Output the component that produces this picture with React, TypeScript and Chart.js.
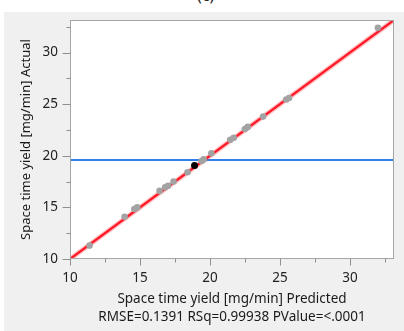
import React, { useEffect, useRef } from "react";
import { Chart, registerables } from "chart.js";

Chart.register(...registerables);

const predicted = [11.4, 13.9, 14.6, 14.8, 16.4, 16.8, 17.0, 17.4, 18.4, 19.4, 19.55, 20.1, 21.45, 21.7, 22.5, 22.7, 23.8, 25.45, 25.65, 32.0];
const actual = [11.3, 14.1, 14.85, 15.0, 16.6, 16.95, 17.1, 17.5, 18.4, 19.5, 19.65, 20.25, 21.55, 21.75, 22.6, 22.8, 23.8, 25.45, 25.6, 32.4];
const highlightPredicted = [18.9];
const highlightActual = [19.05];
const meanActual = 19.6;
const axisMin = 10;
const axisMax = 33.15;
const majorTicks = [10, 15, 20, 25, 30];
const minorTicks = [12.5, 17.5, 22.5, 27.5, 32.5];
const xTitle = ["Space time yield [mg/min] Predicted", "RMSE=0.1391 RSq=0.99938 PValue=<.0001"];
const yTitle = "Space time yield [mg/min] Actual";

const FONT = "'Noto Sans', 'Open Sans', sans-serif";

const framePlugin = {
  id: "frame",
  beforeDatasetsDraw(chart: any) {
    const { ctx, chartArea: a } = chart;
    ctx.save();
    ctx.fillStyle = "#ffffff";
    ctx.fillRect(a.left, a.top, a.right - a.left, a.bottom - a.top);
    ctx.restore();
  },
  afterDraw(chart: any) {
    const { ctx, chartArea: a, scales } = chart;
    ctx.save();
    ctx.strokeStyle = "#a6a6a6";
    ctx.lineWidth = 1;
    ctx.strokeRect(Math.round(a.left) + 0.5, Math.round(a.top) + 0.5, Math.round(a.right - a.left) - 1, Math.round(a.bottom - a.top) - 1);
    ctx.strokeStyle = "#909090";
    ctx.beginPath();
    const xs = scales.x, ys = scales.y;
    const bottom = Math.round(a.bottom) - 0.5;
    const left = Math.round(a.left) + 0.5;
    majorTicks.forEach((v) => {
      const px = Math.round(xs.getPixelForValue(v)) + 0.5;
      ctx.moveTo(px, bottom); ctx.lineTo(px, bottom + 7);
      const py = Math.round(ys.getPixelForValue(v)) + 0.5;
      ctx.moveTo(left, py); ctx.lineTo(left - 8, py);
    });
    minorTicks.forEach((v) => {
      const px = Math.round(xs.getPixelForValue(v)) + 0.5;
      ctx.moveTo(px, bottom); ctx.lineTo(px, bottom + 4);
      const py = Math.round(ys.getPixelForValue(v)) + 0.5;
      ctx.moveTo(left, py); ctx.lineTo(left - 4, py);
    });
    ctx.stroke();
    ctx.restore();
  },
};

export default function App() {
  const ref = useRef<HTMLCanvasElement | null>(null);
  useEffect(() => {
    document.body.style.margin = "0";
    const pts = predicted.map((x, i) => ({ x, y: actual[i] }));
    const hl = highlightPredicted.map((x, i) => ({ x, y: highlightActual[i] }));
    const fit = [{ x: axisMin, y: axisMin }, { x: axisMax, y: axisMax }];
    const mean = [{ x: axisMin, y: meanActual }, { x: axisMax, y: meanActual }];
    const chart = new Chart(ref.current!, {
      type: "scatter",
      data: {
        datasets: [
          { data: mean, showLine: true, borderColor: "#2f80ed", borderWidth: 2, pointRadius: 0, order: 5 },
          { data: fit, showLine: true, borderColor: "rgba(255,60,60,0.3)", borderWidth: 5, pointRadius: 0, order: 4 },
          { data: fit, showLine: true, borderColor: "#ff1a2a", borderWidth: 2.4, pointRadius: 0, order: 3 },
          { data: pts, backgroundColor: "#a3a3a3", borderColor: "#a3a3a3", pointRadius: 3.3, borderWidth: 0, order: 2 },
          { data: hl, backgroundColor: "#000000", borderColor: "#000000", pointRadius: 3.5, borderWidth: 0, order: 1 },
        ],
      },
      options: {
        animation: false,
        responsive: false,
        events: [],
        layout: { padding: { top: 14, right: 10, left: 0, bottom: 0 } },
        plugins: { legend: { display: false }, tooltip: { enabled: false } },
        scales: {
          x: {
            type: "linear",
            min: axisMin,
            max: axisMax,
            afterBuildTicks: (s: any) => { s.ticks = majorTicks.map((v) => ({ value: v })); },
            afterFit: (s: any) => { s.height = 72; },
            grid: { drawOnChartArea: false, drawTicks: false },
            border: { display: false },
            ticks: { padding: 11, color: "#222", font: { family: FONT, size: 13.5 } },
            title: { display: true, text: xTitle, color: "#1a1a1a", font: { family: FONT, size: 13.5, lineHeight: 1.333 }, padding: { top: 0, bottom: 5 } },
          },
          y: {
            type: "linear",
            min: axisMin,
            max: axisMax,
            afterBuildTicks: (s: any) => { s.ticks = majorTicks.map((v) => ({ value: v })); },
            afterFit: (s: any) => { s.width = 70; },
            grid: { drawOnChartArea: false, drawTicks: false },
            border: { display: false },
            ticks: { padding: 12, color: "#222", font: { family: FONT, size: 13.5 } },
            title: { display: true, text: yTitle, color: "#1a1a1a", font: { family: FONT, size: 13, lineHeight: 1.333 }, padding: { top: 18, bottom: 0 } },
          },
        },
      },
      plugins: [framePlugin],
    });
    return () => chart.destroy();
  }, []);

  return (
    <div style={{ position: "fixed", left: 0, top: 0, width: 404, height: 331, background: "#fff", overflow: "hidden" }}>
      <div style={{ position: "absolute", left: 197, top: -13, fontFamily: FONT, fontSize: 16, lineHeight: "16px", color: "#222" }}>(c)</div>
      <div style={{ position: "absolute", left: 4, top: 12, right: 0, bottom: 0, background: "#f0f0f0" }} />
      <canvas ref={ref} width={404} height={331} style={{ position: "absolute", left: 0, top: 0, width: 404, height: 331 }} />
    </div>
  );
}
